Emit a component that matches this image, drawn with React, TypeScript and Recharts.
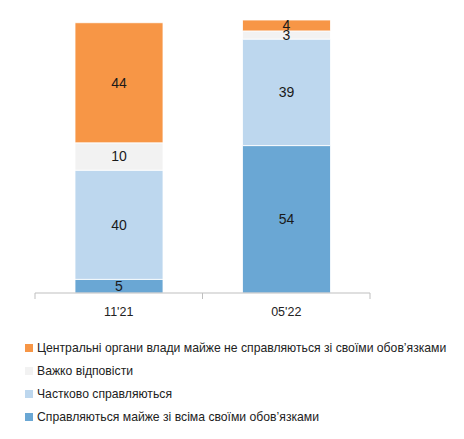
import { BarChart, Bar, XAxis, YAxis, LabelList } from 'recharts';

const categories = ["11'21", "05'22"];
const fullyCope = [5, 54];
const partlyCope = [40, 39];
const hardToSay = [10, 3];
const notCope = [44, 4];

const series = [
  { key: 'fully', name: 'Справляються майже зі всіма своїми обов’язками', values: fullyCope, color: '#6AA7D4' },
  { key: 'partly', name: 'Частково справляються', values: partlyCope, color: '#BDD7EE' },
  { key: 'hard', name: 'Важко відповісти', values: hardToSay, color: '#F2F2F2' },
  { key: 'not', name: 'Центральні органи влади майже не справляються зі своїми обов’язками', values: notCope, color: '#F79646' },
];

const data = categories.map((cat, i) => {
  const row: Record<string, string | number> = { cat };
  series.forEach((s) => {
    row[s.key] = s.values[i];
  });
  return row;
});

const FONT = '"Liberation Sans", Arial, sans-serif';
const NARROW = '"Liberation Sans Narrow", "Arial Narrow", "Liberation Sans", sans-serif';
const WIDTH = 464;
const HEIGHT = 439;
const MARGIN = { top: 20, right: 94, bottom: 116, left: 35 };
const BAND = (WIDTH - MARGIN.left - MARGIN.right) / categories.length;
const AXIS_COLOR = '#BFBFBF';

// category label plus the tick marks on the band edges, like Excel draws them
function CategoryTick(props: any) {
  const { x, y, payload, index } = props;
  const left = x - BAND / 2;
  const right = x + BAND / 2;
  return (
    <g>
      <line x1={left} x2={left} y1={y} y2={y + 6} stroke={AXIS_COLOR} />
      {index === categories.length - 1 && (
        <line x1={right} x2={right} y1={y} y2={y + 6} stroke={AXIS_COLOR} />
      )}
      <text x={x} y={y + 23} textAnchor="middle" fill="#222" fontSize={12.5} fontFamily={FONT}>
        {payload.value}
      </text>
    </g>
  );
}

export default function App() {
  return (
    <div style={{ position: 'absolute', left: 0, top: 0, width: WIDTH, height: HEIGHT, fontFamily: FONT, background: '#fff' }}>
      <BarChart width={WIDTH} height={HEIGHT} data={data} margin={MARGIN}>
        <XAxis
          dataKey="cat"
          axisLine={{ stroke: AXIS_COLOR }}
          tickLine={false}
          tickSize={0}
          tickMargin={0}
          height={30}
          interval={0}
          tick={<CategoryTick />}
        />
        <YAxis hide domain={[0, 100]} />
        {series.map((s) => (
          <Bar
            key={s.key}
            dataKey={s.key}
            name={s.name}
            stackId="a"
            fill={s.color}
            stroke="#ffffff"
            strokeWidth={0.8}
            barSize={88}
            isAnimationActive={false}
          >
            <LabelList dataKey={s.key} position="center" fill="#1a1a1a" fontSize={14} fontFamily={NARROW} />
          </Bar>
        ))}
      </BarChart>
      <div style={{ position: 'absolute', left: 25, top: 336, fontSize: 12.2, color: '#222' }}>
        {[...series].reverse().map((s) => (
          <div key={s.key} style={{ display: 'flex', alignItems: 'center', height: 23, whiteSpace: 'nowrap' }}>
            <span style={{ width: 8, height: 8, background: s.color, marginRight: 4, display: 'inline-block' }} />
            <span>{s.name}</span>
          </div>
        ))}
      </div>
    </div>
  );
}
